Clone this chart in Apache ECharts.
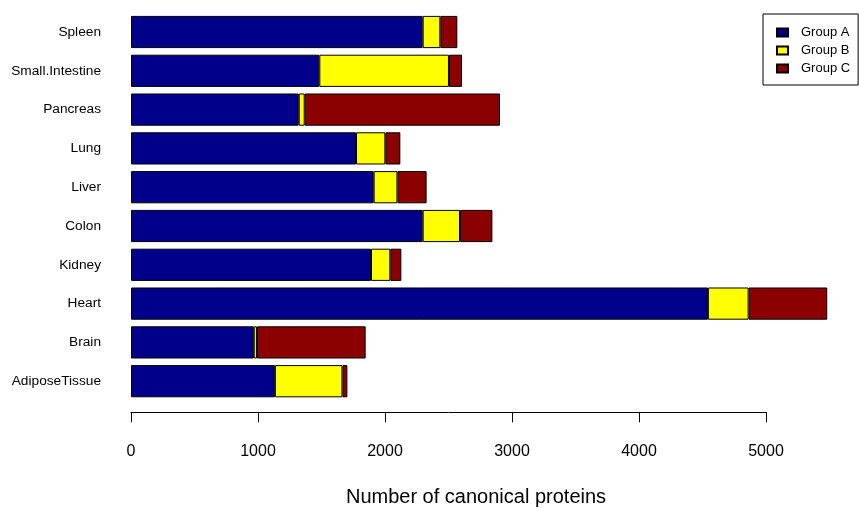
<!DOCTYPE html>
<html>
<head>
<meta charset="utf-8">
<script src="https://cdn.jsdelivr.net/npm/echarts@6/dist/echarts.min.js"></script>
<style>
  html, body { margin: 0; padding: 0; background: #fff; }
  #chart { width: 859px; height: 508px; }
</style>
</head>
<body>
<div id="chart"></div>
<script>
var tissues = ['AdiposeTissue', 'Brain', 'Heart', 'Kidney', 'Colon', 'Liver', 'Lung', 'Pancreas', 'Small.Intestine', 'Spleen'];
var groupA = [1133, 967, 4543, 1890, 2297, 1911, 1772, 1321, 1483, 2297];
var groupB = [532, 25, 321, 152, 294, 187, 231, 47, 1021, 139];
var groupC = [39, 856, 619, 87, 255, 230, 118, 1538, 103, 134];
var xTicks = [0, 1000, 2000, 3000, 4000, 5000];

var font = '"Liberation Sans", Arial, Helvetica, sans-serif';
var myChart = echarts.init(document.getElementById('chart'));

function bar(name, data, color) {
  return {
    name: name,
    type: 'bar',
    stack: 'total',
    data: data,
    barCategoryGap: '17%',
    itemStyle: { color: color, borderColor: '#000', borderWidth: 1 },
    emphasis: { disabled: true }
  };
}

var option = {
  animation: false,
  textStyle: { fontFamily: font },
  legend: {
    orient: 'vertical',
    left: 763,
    top: 14,
    padding: [11, 8, 9, 13],
    borderColor: '#000',
    borderWidth: 1,
    borderRadius: 0,
    itemWidth: 11,
    itemHeight: 8,
    itemGap: 3,
    icon: 'rect',
    textStyle: { fontFamily: font, fontSize: 13, color: '#000', lineHeight: 15, padding: [0, 0, 0, 8] },
    data: ['Group A', 'Group B', 'Group C']
  },
  grid: [
    { left: 131, right: 29.6, top: 12.6, height: 388 },
    { left: 131, width: 635, top: 412, height: 1 }
  ],
  xAxis: [
    {
      gridIndex: 0, type: 'value', min: 0, max: 5500,
      axisLine: { show: false }, axisTick: { show: false },
      axisLabel: { show: false }, splitLine: { show: false }
    },
    {
      gridIndex: 1, type: 'value', min: xTicks[0], max: xTicks[xTicks.length - 1], interval: 1000,
      position: 'bottom',
      axisLine: { show: true, lineStyle: { color: '#000', width: 1 } },
      axisTick: { show: true, length: 10, lineStyle: { color: '#000' } },
      axisLabel: {
        color: '#000', fontSize: 16, margin: 31,
        formatter: function (v) { return String(v); }
      },
      splitLine: { show: false },
      name: 'Number of canonical proteins',
      nameLocation: 'middle',
      nameGap: 75,
      nameTextStyle: { color: '#000', fontSize: 20, fontFamily: font, padding: [0, 0, 0, 55] }
    }
  ],
  yAxis: [
    {
      gridIndex: 0, type: 'category', data: tissues,
      axisLine: { show: false }, axisTick: { show: false },
      axisLabel: { color: '#000', fontSize: 13.7, margin: 30 }
    },
    { gridIndex: 1, type: 'value', show: false }
  ],
  series: [
    bar('Group A', groupA, '#00008B'),
    bar('Group B', groupB, '#FFFF00'),
    bar('Group C', groupC, '#8B0000')
  ]
};

myChart.setOption(option);
</script>
</body>
</html>
